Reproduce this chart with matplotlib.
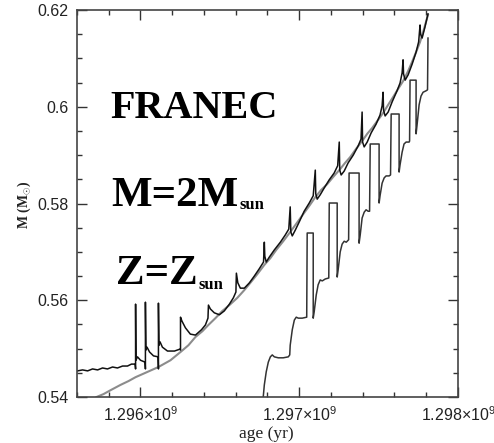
import matplotlib
matplotlib.use("Agg")
import matplotlib.pyplot as plt
import numpy as np
from matplotlib.ticker import MultipleLocator

plt.rcParams["mathtext.fontset"] = "custom"
plt.rcParams["mathtext.rm"] = "Liberation Sans"
plt.rcParams["mathtext.it"] = "Liberation Sans:italic"
plt.rcParams["mathtext.bf"] = "Liberation Sans:bold"

# ---------------- data (age in Myr, mass in Msun) ----------------
age_black_myr = [
    1295.604, 1295.635, 1295.667, 1295.698, 1295.730, 1295.761, 1295.792, 1295.824,
    1295.855, 1295.887, 1295.918, 1295.943, 1295.966, 1295.969, 1295.969, 1295.971,
    1295.981, 1296.000, 1296.029, 1296.031, 1296.031, 1296.034, 1296.041, 1296.057,
    1296.082, 1296.111, 1296.113, 1296.113, 1296.116, 1296.123, 1296.138, 1296.170,
    1296.214, 1296.249, 1296.252, 1296.252, 1296.261, 1296.283, 1296.314, 1296.346,
    1296.384, 1296.409, 1296.425, 1296.428, 1296.440, 1296.465, 1296.497, 1296.528,
    1296.560, 1296.585, 1296.601, 1296.604, 1296.613, 1296.629, 1296.654, 1296.686,
    1296.717, 1296.748, 1296.775, 1296.780, 1296.783, 1296.792, 1296.811, 1296.843,
    1296.881, 1296.912, 1296.934, 1296.943, 1296.947, 1296.956, 1296.975, 1297.000,
    1297.031, 1297.063, 1297.088, 1297.101, 1297.104, 1297.113, 1297.132, 1297.157,
    1297.189, 1297.220, 1297.242, 1297.252, 1297.255, 1297.264, 1297.283, 1297.308,
    1297.340, 1297.371, 1297.389, 1297.396, 1297.399, 1297.409, 1297.428, 1297.453,
    1297.484, 1297.509, 1297.522, 1297.528, 1297.531, 1297.541, 1297.560, 1297.585,
    1297.616, 1297.635, 1297.648, 1297.654, 1297.657, 1297.667, 1297.686, 1297.711,
    1297.736, 1297.752, 1297.761, 1297.764, 1297.774, 1297.792, 1297.811,
]
mass_black = [
    0.5454, 0.5456, 0.5454, 0.5458, 0.5456, 0.5460, 0.5458, 0.5462,
    0.5460, 0.5464, 0.5464, 0.5468, 0.5468, 0.5458, 0.5592, 0.5476,
    0.5483, 0.5476, 0.5472, 0.5458, 0.5596, 0.5497, 0.5503, 0.5493,
    0.5485, 0.5483, 0.5458, 0.5594, 0.5507, 0.5514, 0.5503, 0.5495,
    0.5495, 0.5499, 0.5497, 0.5565, 0.5557, 0.5543, 0.5530, 0.5528,
    0.5539, 0.5549, 0.5563, 0.5590, 0.5582, 0.5574, 0.5570, 0.5578,
    0.5592, 0.5605, 0.5617, 0.5656, 0.5636, 0.5625, 0.5625, 0.5636,
    0.5650, 0.5665, 0.5679, 0.5720, 0.5691, 0.5679, 0.5689, 0.5704,
    0.5720, 0.5735, 0.5747, 0.5793, 0.5741, 0.5733, 0.5745, 0.5762,
    0.5784, 0.5801, 0.5816, 0.5869, 0.5820, 0.5809, 0.5818, 0.5832,
    0.5849, 0.5863, 0.5878, 0.5927, 0.5869, 0.5859, 0.5867, 0.5884,
    0.5900, 0.5919, 0.5933, 0.5989, 0.5927, 0.5917, 0.5927, 0.5946,
    0.5964, 0.5983, 0.6002, 0.6030, 0.5993, 0.5981, 0.5989, 0.6010,
    0.6033, 0.6049, 0.6070, 0.6097, 0.6068, 0.6055, 0.6066, 0.6088,
    0.6113, 0.6134, 0.6169, 0.6150, 0.6142, 0.6165, 0.6192,
]

age_gray_myr = [
    1295.723, 1295.767, 1295.811, 1295.874, 1295.925, 1295.969, 1296.031, 1296.113,
    1296.189, 1296.252, 1296.302, 1296.346, 1296.390, 1296.428, 1296.472, 1296.516,
    1296.560, 1296.610, 1296.654, 1296.692, 1296.736, 1296.780, 1296.818, 1296.855,
    1296.899, 1296.943, 1296.981, 1297.025, 1297.063, 1297.101, 1297.138, 1297.176,
    1297.214, 1297.252, 1297.289, 1297.321, 1297.358, 1297.396, 1297.428, 1297.459,
    1297.497, 1297.528, 1297.560, 1297.591, 1297.623, 1297.654, 1297.686, 1297.711,
    1297.736, 1297.761, 1297.786, 1297.811,
]
mass_gray = [
    0.5400, 0.5406, 0.5414, 0.5425, 0.5433, 0.5441, 0.5450, 0.5462,
    0.5476, 0.5493, 0.5507, 0.5524, 0.5536, 0.5549, 0.5563, 0.5578,
    0.5590, 0.5605, 0.5621, 0.5636, 0.5654, 0.5673, 0.5687, 0.5704,
    0.5722, 0.5741, 0.5758, 0.5778, 0.5795, 0.5813, 0.5828, 0.5840,
    0.5855, 0.5869, 0.5884, 0.5896, 0.5913, 0.5929, 0.5944, 0.5956,
    0.5973, 0.5987, 0.6004, 0.6020, 0.6037, 0.6053, 0.6074, 0.6093,
    0.6113, 0.6134, 0.6161, 0.6190,
]

age_lower_myr = [
    1296.772, 1296.780, 1296.792, 1296.805, 1296.818, 1296.830, 1296.843, 1296.868,
    1296.899, 1296.931, 1296.940, 1296.943, 1296.956, 1296.969, 1296.981, 1296.994,
    1297.019, 1297.047, 1297.050, 1297.088, 1297.088, 1297.094, 1297.107, 1297.119,
    1297.132, 1297.145, 1297.164, 1297.186, 1297.189, 1297.239, 1297.239, 1297.245,
    1297.258, 1297.270, 1297.283, 1297.296, 1297.311, 1297.314, 1297.377, 1297.377,
    1297.384, 1297.396, 1297.409, 1297.421, 1297.434, 1297.443, 1297.447, 1297.503,
    1297.503, 1297.509, 1297.522, 1297.535, 1297.547, 1297.566, 1297.575, 1297.579,
    1297.629, 1297.629, 1297.635, 1297.648, 1297.660, 1297.673, 1297.692, 1297.695,
    1297.698, 1297.736, 1297.736, 1297.742, 1297.755, 1297.767, 1297.780, 1297.799,
    1297.808, 1297.811,
]
mass_lower = [
    0.5396, 0.5425, 0.5452, 0.5472, 0.5483, 0.5487, 0.5483, 0.5481,
    0.5481, 0.5483, 0.5487, 0.5507, 0.5539, 0.5559, 0.5565, 0.5563,
    0.5563, 0.5565, 0.5739, 0.5739, 0.5563, 0.5576, 0.5611, 0.5632,
    0.5642, 0.5640, 0.5644, 0.5646, 0.5801, 0.5801, 0.5648, 0.5663,
    0.5700, 0.5716, 0.5722, 0.5720, 0.5725, 0.5863, 0.5863, 0.5718,
    0.5735, 0.5770, 0.5782, 0.5787, 0.5784, 0.5784, 0.5923, 0.5923,
    0.5801, 0.5816, 0.5842, 0.5853, 0.5857, 0.5857, 0.5859, 0.5985,
    0.5985, 0.5865, 0.5880, 0.5906, 0.5923, 0.5927, 0.5927, 0.5929,
    0.6055, 0.6055, 0.5944, 0.5962, 0.6004, 0.6022, 0.6030, 0.6033,
    0.6035, 0.6142,
]

xticks_yr = [1.296e9, 1.297e9, 1.298e9]
xtick_labels = [r"1.296$\times$10$^{9}$", r"1.297$\times$10$^{9}$", r"1.298$\times$10$^{9}$"]
yticks = [0.54, 0.56, 0.58, 0.60, 0.62]
ytick_labels = ["0.54", "0.56", "0.58", "0.6", "0.62"]

# ---------------- figure ----------------
W, H = 494, 443
fig = plt.figure(figsize=(W / 100, H / 100), dpi=100)
ax = fig.add_axes([77 / W, 1 - 397 / H, (458 - 77) / W, (397 - 10) / H])

ax.plot(np.array(age_gray_myr) * 1e6, mass_gray, color="#8c8c8c", lw=1.5, solid_joinstyle="round")
ax.plot(np.array(age_black_myr) * 1e6, mass_black, color="#111111", lw=1.1)
ax.plot(np.array(age_lower_myr) * 1e6, mass_lower, color="#333333", lw=1.1)

ax.set_xlim(1.2956e9, 1.298e9)
ax.set_ylim(0.54, 0.62)
ax.set_xticks(xticks_yr)
ax.set_xticklabels(xtick_labels)
ax.set_yticks(yticks)
ax.set_yticklabels(ytick_labels)
ax.xaxis.set_minor_locator(MultipleLocator(2e5))
ax.yaxis.set_minor_locator(MultipleLocator(0.005))
ax.tick_params(which="both", direction="in", top=True, right=True, color="#333333", width=1.0)
ax.tick_params(which="major", length=7)
ax.tick_params(which="minor", length=3.5)
ax.tick_params(axis="y", pad=6)
ax.tick_params(axis="x", pad=6)
for lab in ax.get_xticklabels() + ax.get_yticklabels():
    lab.set_fontfamily("Liberation Sans")
    lab.set_fontsize(11.5)
    lab.set_color("#222222")
for s in ax.spines.values():
    s.set_color("#444444")
    s.set_linewidth(1.2)

fig.text(24 / W, 1 - 205 / H, r"M (M$_{\odot}$)", rotation=90, ha="center", va="center",
         fontsize=10, family="Liberation Serif", weight="bold", color="#222222")
fig.text(266 / W, 1 - 434 / H, "age (yr)", ha="center", va="center",
         fontsize=12.5, family="Liberation Serif", color="#222222")

# annotation texts
def big_text(x, y, s, size, sub=None, sub_dy=3):
    t = fig.text(x / W, 1 - y / H, s, ha="left", va="baseline", fontsize=size,
                 family="Liberation Serif", weight="bold", color="black")
    if sub:
        fig.canvas.draw()
        bb = t.get_window_extent()
        fig.text(bb.x1 / W + 1 / W, 1 - (y + sub_dy) / H, sub, ha="left", va="baseline",
                 fontsize=12, family="Liberation Serif", weight="bold", color="black")

big_text(110, 118, "FRANEC", 29)
big_text(111, 206, "M=2M", 31, sub="sun", sub_dy=3)
big_text(116, 284, "Z=Z", 31, sub="sun", sub_dy=5)

fig.savefig("out.png", dpi=100)
